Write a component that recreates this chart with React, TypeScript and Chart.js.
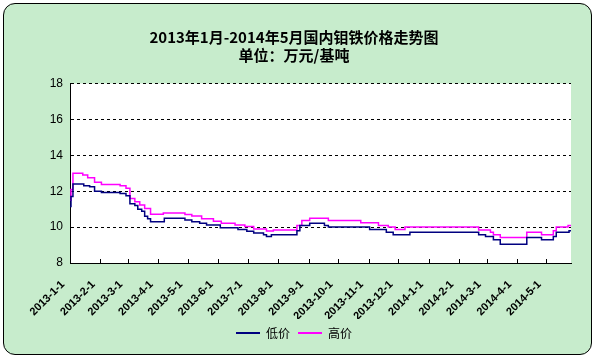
import React, { useEffect, useRef } from 'react';
import { Chart, registerables } from 'chart.js';

Chart.register(...registerables);

const titleLines = ['2013年1月-2014年5月国内钼铁价格走势图', '单位：万元/基吨'];
const seriesNames = ['低价', '高价'];
const seriesColors = ['#000080', '#FF00FF'];

const tickDates = [
  '2013-01-01', '2013-02-01', '2013-03-01', '2013-04-01', '2013-05-01', '2013-06-01',
  '2013-07-01', '2013-08-01', '2013-09-01', '2013-10-01', '2013-11-01', '2013-12-01',
  '2014-01-01', '2014-02-01', '2014-03-01', '2014-04-01', '2014-05-01',
];
const tickLabels = [
  '2013-1-1', '2013-2-1', '2013-3-1', '2013-4-1', '2013-5-1', '2013-6-1',
  '2013-7-1', '2013-8-1', '2013-9-1', '2013-10-1', '2013-11-1', '2013-12-1',
  '2014-1-1', '2014-2-1', '2014-3-1', '2014-4-1', '2014-5-1',
];
const startDate = '2013-01-01';
const endDate = '2014-05-26';

const lowDates = [
  '2013-01-01', '2013-01-02', '2013-01-04', '2013-01-15', '2013-01-21', '2013-01-26',
  '2013-02-02', '2013-02-21', '2013-02-27', '2013-03-03', '2013-03-08', '2013-03-11',
  '2013-03-15', '2013-03-18', '2013-03-21', '2013-03-24', '2013-04-07', '2013-04-28',
  '2013-05-05', '2013-05-13', '2013-05-20', '2013-06-03', '2013-06-21', '2013-06-30',
  '2013-07-07', '2013-07-17', '2013-07-20', '2013-07-25', '2013-08-20', '2013-08-23',
  '2013-09-02', '2013-09-17', '2013-09-21', '2013-11-02', '2013-11-19', '2013-11-26',
  '2013-12-13', '2014-02-21', '2014-02-28', '2014-03-08', '2014-03-15', '2014-04-11',
  '2014-04-26', '2014-05-08', '2014-05-11', '2014-05-24', '2014-05-26',
];
const lowValues = [
  11.15, 11.7, 12.4, 12.3, 12.25, 12.0,
  11.93, 11.87, 11.75, 11.3, 11.2, 11.0,
  10.88, 10.6, 10.47, 10.3, 10.5, 10.4,
  10.3, 10.22, 10.12, 9.97, 9.86, 9.77,
  9.67, 9.58, 9.48, 9.58, 9.8, 10.09,
  10.22, 10.09, 10.0, 9.86, 9.71, 9.58,
  9.71, 9.58, 9.48, 9.29, 9.05, 9.42,
  9.29, 9.48, 9.71, 9.8, 9.8,
];

const highDates = [
  '2013-01-01', '2013-01-02', '2013-01-04', '2013-01-14', '2013-01-19', '2013-01-26',
  '2013-02-02', '2013-02-21', '2013-02-27', '2013-03-03', '2013-03-08', '2013-03-13',
  '2013-03-18', '2013-03-24', '2013-04-06', '2013-04-28', '2013-05-05', '2013-05-15',
  '2013-05-27', '2013-06-04', '2013-06-18', '2013-06-28', '2013-07-07', '2013-07-20',
  '2013-07-27', '2013-08-20', '2013-08-25', '2013-09-02', '2013-09-21', '2013-10-24',
  '2013-11-11', '2013-11-21', '2013-11-28', '2013-12-08', '2014-02-21', '2014-03-05',
  '2014-03-08', '2014-03-15', '2014-04-11', '2014-04-26', '2014-05-08', '2014-05-11',
  '2014-05-23', '2014-05-26',
];
const highValues = [
  11.5, 12.1, 13.0, 12.9, 12.75, 12.5,
  12.37, 12.3, 12.17, 11.6, 11.41, 11.23,
  11.03, 10.71, 10.79, 10.7, 10.62, 10.47,
  10.32, 10.22, 10.12, 10.03, 9.9, 9.78,
  9.84, 10.09, 10.37, 10.5, 10.37, 10.24,
  10.09, 10.0, 9.86, 10.0, 9.84, 9.71,
  9.58, 9.42, 9.71, 9.58, 9.8, 10.0,
  10.09, 10.09,
];

const yMin = 8;
const yMax = 18;
const yStep = 2;

const dayOffset = (s: string) => {
  const [y, m, d] = s.split('-').map(Number);
  const [y0, m0, d0] = startDate.split('-').map(Number);
  return Math.round((Date.UTC(y, m - 1, d) - Date.UTC(y0, m0 - 1, d0)) / 86400000);
};

const toPoints = (dates: string[], values: number[]) =>
  dates.map((d, i) => ({ x: dayOffset(d), y: values[i] }));

const chartBgPlugin = {
  id: 'plotBg',
  beforeDraw(chart: any) {
    const { ctx, chartArea } = chart;
    ctx.save();
    ctx.fillStyle = '#FFFFFF';
    ctx.fillRect(chartArea.left, chartArea.top, chartArea.right - chartArea.left, chartArea.bottom - chartArea.top);
    ctx.restore();
  },
  afterDraw(chart: any) {
    const { ctx, chartArea } = chart;
    const xs = chart.scales.x;
    ctx.save();
    ctx.strokeStyle = '#000000';
    ctx.lineWidth = 1;
    ctx.beginPath();
    xs.ticks.forEach((t: any) => {
      const px = Math.round(xs.getPixelForValue(t.value)) + 0.5;
      ctx.moveTo(px, chartArea.bottom);
      ctx.lineTo(px, chartArea.bottom - 4);
    });
    ctx.stroke();
    ctx.restore();
  },
};

export default function App() {
  const ref = useRef<HTMLCanvasElement>(null);

  useEffect(() => {
    if (!ref.current) return;
    const chart = new Chart(ref.current, {
      type: 'line',
      data: {
        datasets: [
          {
            label: seriesNames[0],
            data: toPoints(lowDates, lowValues),
            borderColor: seriesColors[0],
            backgroundColor: seriesColors[0],
            borderWidth: 1.5,
            pointRadius: 0,
            stepped: 'before',
            yAxisID: 'y',
          },
          {
            label: seriesNames[1],
            data: toPoints(highDates, highValues),
            borderColor: seriesColors[1],
            backgroundColor: seriesColors[1],
            borderWidth: 1.5,
            pointRadius: 0,
            stepped: 'before',
            yAxisID: 'y',
          },
        ],
      },
      options: {
        responsive: false,
        animation: false,
        layout: { padding: { top: 0, right: 7, bottom: 8, left: 0 } },
        plugins: {
          tooltip: { enabled: false },
          title: {
            display: true,
            text: titleLines,
            color: '#000000',
            font: { family: '"Noto Sans CJK SC"', size: 15, weight: 'bold', lineHeight: 1.15 },
            padding: { top: 29, bottom: 20 },
          },
          legend: {
            display: true,
            position: 'bottom',
            labels: {
              color: '#000000',
              font: { family: '"Noto Sans CJK SC"', size: 12 },
              boxWidth: 24,
              boxHeight: 2,
              padding: 8,
              generateLabels: (chart: any) =>
                chart.data.datasets.map((ds: any, i: number) => ({
                  text: ds.label,
                  fillStyle: ds.borderColor,
                  strokeStyle: ds.borderColor,
                  lineWidth: 0,
                  hidden: false,
                  datasetIndex: i,
                  fontColor: '#000000',
                })),
            },
          },
        },
        scales: {
          x: {
            type: 'linear',
            min: dayOffset(startDate),
            max: dayOffset(endDate),
            afterBuildTicks: (scale: any) => {
              scale.ticks = tickDates.map((d) => ({ value: dayOffset(d) }));
            },
            afterFit: (scale: any) => {
              scale.height = 56;
            },
            grid: { display: false, drawTicks: false },
            border: { display: true, color: '#000000', width: 1 },
            ticks: {
              autoSkip: false,
              minRotation: 45,
              maxRotation: 45,
              padding: 15,
              labelOffset: -7,
              color: '#000000',
              font: { family: '"Liberation Sans"', size: 11, weight: 'bold' },
              callback: (_v: any, i: number) => tickLabels[i],
            },
          },
          y: {
            type: 'linear',
            min: yMin,
            max: yMax,
            afterFit: (scale: any) => {
              scale.width = 70;
            },
            grid: { display: true, color: '#000000', lineWidth: 1, drawTicks: false },
            border: { display: true, color: '#000000', width: 1, dash: [3, 3] },
            ticks: {
              stepSize: yStep,
              padding: 7,
              color: '#000000',
              font: { family: '"Liberation Sans"', size: 12 },
            },
          },
          yRight: {
            type: 'linear',
            position: 'right',
            display: true,
            afterFit: (scale: any) => {
              scale.width = 17;
            },
            grid: { display: false, drawTicks: false },
            border: { display: false },
            ticks: { display: false },
          },
        },
      },
      plugins: [chartBgPlugin],
    } as any);
    return () => chart.destroy();
  }, []);

  return (
    <div style={{ position: 'fixed', left: 0, top: 0, width: 595, height: 357, background: '#FFFFFF' }}>
      <div
        style={{
          position: 'absolute',
          left: 3,
          top: 3,
          width: 589,
          height: 352,
          boxSizing: 'border-box',
          border: '1.5px solid #000000',
          borderRadius: 12,
          background: '#C7ECCC',
        }}
      />
      <canvas ref={ref} width={595} height={357} style={{ position: 'absolute', left: 0, top: 0, width: 595, height: 357 }} />
    </div>
  );
}
